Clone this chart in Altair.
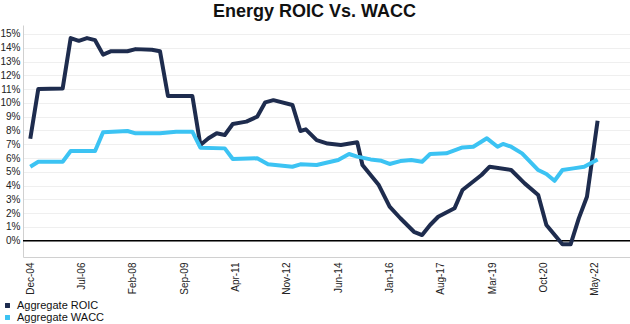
import altair as alt
import pandas as pd

roic_dates = ["2004-12", "2005-03", "2005-12", "2006-03", "2006-06", "2006-09", "2006-12",
              "2007-03", "2007-06", "2007-12", "2008-03", "2008-09", "2008-12", "2009-03",
              "2009-12", "2010-03", "2010-06", "2010-09", "2010-12", "2011-03", "2011-08",
              "2011-12", "2012-03", "2012-06", "2013-01", "2013-04", "2013-06", "2013-10",
              "2014-02", "2014-07", "2015-01", "2015-03", "2015-09", "2016-01", "2016-05",
              "2016-10", "2017-01", "2017-04", "2017-07", "2018-01", "2018-04", "2018-11",
              "2019-02", "2019-10", "2020-03", "2020-08", "2020-11", "2021-05", "2021-08",
              "2021-11", "2022-02", "2022-06"]
roic_vals = [7.4, 11.0, 11.05, 14.7, 14.5, 14.7, 14.55,
             13.5, 13.75, 13.75, 13.9, 13.85, 13.75, 10.5,
             10.5, 6.95, 7.43, 7.8, 7.67, 8.47, 8.64,
             9.0, 10.04, 10.2, 9.85, 7.96, 8.08, 7.3,
             7.05, 6.95, 7.14, 5.49, 4.04, 2.47, 1.63,
             0.65, 0.41, 1.14, 1.74, 2.35, 3.68, 4.77,
             5.37, 5.13, 4.16, 3.32, 1.14, -0.26, -0.26,
             1.62, 3.19, 8.71]

wacc_dates = ["2004-12", "2005-03", "2005-12", "2006-03", "2006-12", "2007-03", "2007-12",
              "2008-03", "2008-12", "2009-06", "2009-12", "2010-03", "2010-12", "2011-03",
              "2011-12", "2012-04", "2013-01", "2013-04", "2013-10", "2014-06", "2014-10",
              "2015-01", "2015-06", "2015-10", "2016-01", "2016-05", "2016-09", "2017-01",
              "2017-04", "2017-10", "2018-04", "2018-08", "2019-01", "2019-05", "2019-07",
              "2019-10", "2020-02", "2020-08", "2020-11", "2021-02", "2021-05", "2021-09",
              "2022-01", "2022-06"]
wacc_vals = [5.37, 5.73, 5.73, 6.51, 6.51, 7.87, 7.96,
             7.79, 7.79, 7.91, 7.91, 6.75, 6.7, 5.93,
             5.98, 5.54, 5.37, 5.54, 5.49, 5.86, 6.29,
             6.1, 5.9, 5.8, 5.57, 5.78, 5.86, 5.73,
             6.29, 6.34, 6.77, 6.82, 7.43, 6.82, 7.02,
             6.82, 6.34, 5.13, 4.84, 4.35, 5.13, 5.25,
             5.37, 5.9]

tick_labels = ["2004-12", "2006-07", "2008-02", "2009-09", "2011-04", "2012-11",
               "2014-06", "2016-01", "2017-08", "2019-03", "2020-10", "2022-05"]
y_ticks = list(range(0, 16))

series_names = ["Aggregate ROIC", "Aggregate WACC"]
series_colors = ["#1e2c4e", "#3cc3f3"]

rows = []
for d, v in zip(roic_dates, roic_vals):
    rows.append({"date": d + "-01T00:00:00Z", "value": v, "series": series_names[0]})
for d, v in zip(wacc_dates, wacc_vals):
    rows.append({"date": d + "-01T00:00:00Z", "value": v, "series": series_names[1]})
df = pd.DataFrame(rows)

tick_vals = [alt.DateTime(year=int(t[:4]), month=int(t[5:7]), date=1, utc=True) for t in tick_labels]

x_scale = alt.Scale(type="utc",
                    domain=[alt.DateTime(year=2004, month=9, date=10, utc=True),
                            alt.DateTime(year=2023, month=6, date=1, utc=True)])
y_scale = alt.Scale(domain=[-1.18, 15.65], nice=False, zero=False)
y_axis = alt.Axis(values=y_ticks, labelExpr="datum.value + '%'",
                  labelFont="Liberation Sans", labelFontSize=10, labelColor="#222222",
                  ticks=False, gridColor="#efefef", domainColor="#d0d0d0",
                  labelPadding=3, labelOverlap=False, labelFlush=False)

lines = alt.Chart(df).mark_line(strokeWidth=4, strokeJoin="round", strokeCap="butt").encode(
    x=alt.X("date:T", scale=x_scale, title=None,
            axis=alt.Axis(values=tick_vals, labelExpr="utcFormat(datum.value, '%b-%y')",
                          labelAngle=270, labelAlign="right", labelBaseline="middle",
                          labelFont="Liberation Sans", labelFontSize=10, labelColor="#222222",
                          labelPadding=5, ticks=False, grid=False, domainColor="#d0d0d0",
                          labelOverlap=False, labelFlush=False)),
    y=alt.Y("value:Q", scale=y_scale, title=None, axis=y_axis),
    color=alt.Color("series:N",
                    scale=alt.Scale(domain=series_names, range=series_colors),
                    legend=alt.Legend(orient="none", legendX=-21, legendY=275, title=None,
                                      symbolType="square", symbolSize=6, symbolStrokeWidth=2.5,
                                      labelFont="Liberation Sans", labelFontSize=11,
                                      labelColor="#111111", rowPadding=-2, labelOffset=4,
                                      offset=0)),
)

zero = alt.Chart(pd.DataFrame({"y": [0.0]})).mark_rule(color="#000000", strokeWidth=1.5).encode(
    y=alt.Y("y:Q", scale=y_scale, title=None, axis=y_axis)
)

chart = alt.layer(zero, lines).properties(
    width=607, height=232,
    title=alt.TitleParams("Energy ROIC Vs. WACC", font="Liberation Sans", fontSize=18,
                          fontWeight="bold", color="#111111", anchor="middle", dx=-12, offset=4),
    padding={"left": 23, "top": 25, "right": 0, "bottom": 67},
    autosize=alt.AutoSizeParams(type="none"),
).configure_view(stroke=None)

chart.save("out.html", embed_options={"renderer": "svg", "actions": False})
